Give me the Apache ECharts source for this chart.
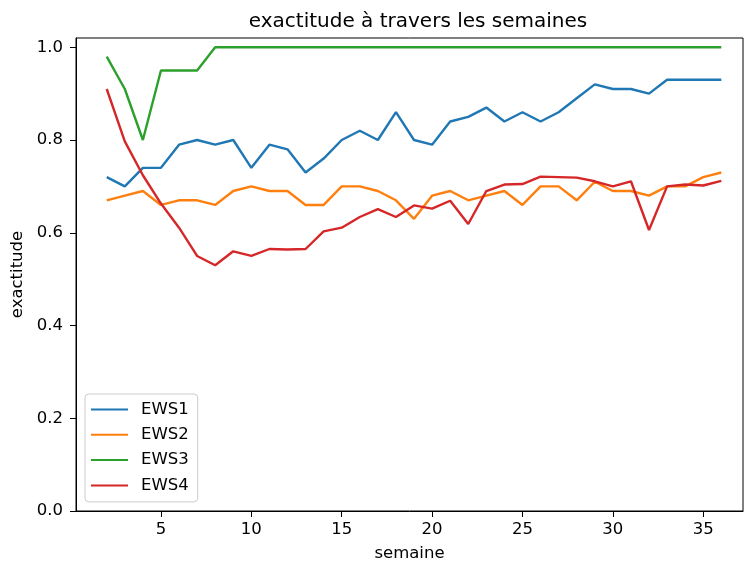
<!DOCTYPE html>
<html>
<head>
<meta charset="utf-8">
<script src="https://cdn.jsdelivr.net/npm/echarts@6/dist/echarts.min.js"></script>
<style>
  html, body { margin: 0; padding: 0; background: #fff; }
  #main { width: 744px; height: 562px; }
</style>
</head>
<body>
<div id="main"></div>
<script>
var weeks = [2, 3, 4, 5, 6, 7, 8, 9, 10, 11, 12, 13, 14, 15, 16, 17, 18, 19, 20, 21, 22, 23, 24, 25, 26, 27, 28, 29, 30, 31, 32, 33, 34, 35, 36];
var ews1 = [0.72, 0.70, 0.74, 0.74, 0.79, 0.80, 0.79, 0.80, 0.74, 0.79, 0.78, 0.73, 0.76, 0.80, 0.82, 0.80, 0.86, 0.80, 0.79, 0.84, 0.85, 0.87, 0.84, 0.86, 0.84, 0.86, 0.89, 0.92, 0.91, 0.91, 0.90, 0.93, 0.93, 0.93, 0.93];
var ews2 = [0.67, 0.68, 0.69, 0.66, 0.67, 0.67, 0.66, 0.69, 0.70, 0.69, 0.69, 0.66, 0.66, 0.70, 0.70, 0.69, 0.67, 0.63, 0.68, 0.69, 0.67, 0.68, 0.69, 0.66, 0.70, 0.70, 0.67, 0.71, 0.69, 0.69, 0.68, 0.70, 0.70, 0.72, 0.73];
var ews3 = [0.98, 0.91, 0.80, 0.95, 0.95, 0.95, 1.0, 1.0, 1.0, 1.0, 1.0, 1.0, 1.0, 1.0, 1.0, 1.0, 1.0, 1.0, 1.0, 1.0, 1.0, 1.0, 1.0, 1.0, 1.0, 1.0, 1.0, 1.0, 1.0, 1.0, 1.0, 1.0, 1.0, 1.0, 1.0];
var ews4 = [0.910, 0.797, 0.724, 0.663, 0.611, 0.550, 0.530, 0.560, 0.550, 0.565, 0.564, 0.565, 0.603, 0.611, 0.634, 0.651, 0.634, 0.659, 0.652, 0.669, 0.619, 0.690, 0.704, 0.705, 0.721, 0.720, 0.719, 0.711, 0.700, 0.711, 0.606, 0.700, 0.704, 0.702, 0.712];
var seriesNames = ['EWS1', 'EWS2', 'EWS3', 'EWS4'];
var colors = ['#1f77b4', '#ff7f0e', '#2ca02c', '#d62728'];
var xTicks = [5, 10, 15, 20, 25, 30, 35];
var yTicks = [0, 0.2, 0.4, 0.6, 0.8, 1.0];

var font = 'DejaVu Sans';

function pairs(vals) {
    return weeks.map(function (w, i) { return [w, vals[i]]; });
}

var allValues = [ews1, ews2, ews3, ews4];
var series = seriesNames.map(function (name, i) {
    return {
        name: name,
        type: 'line',
        data: pairs(allValues[i]),
        showSymbol: false,
        symbol: 'none',
        lineStyle: { color: colors[i], width: 2.4 },
        itemStyle: { color: colors[i] }
    };
});

var myChart = echarts.init(document.getElementById('main'));
var option = {
    animation: false,
    backgroundColor: '#fff',
    title: {
        text: 'exactitude à travers les semaines',
        left: 413,
        textAlign: 'center',
        top: 7,
        textStyle: { fontFamily: font, fontSize: 20, fontWeight: 'normal', color: '#000' }
    },
    grid: {
        left: 76, right: 1, top: 38, bottom: 51,
        outerBoundsMode: 'none',
        containLabel: false,
        show: true, borderColor: '#000', borderWidth: 1, backgroundColor: 'transparent'
    },
    legend: {
        orient: 'vertical',
        left: 85,
        top: 394,
        data: seriesNames,
        icon: 'rect',
        itemWidth: 37,
        itemHeight: 2,
        itemGap: 6.3,
        padding: [6, 9, 7, 6],
        borderColor: '#cccccc',
        borderWidth: 1,
        borderRadius: 4,
        backgroundColor: 'rgba(255,255,255,0.8)',
        textStyle: { fontFamily: font, fontSize: 16.5, color: '#000', lineHeight: 19, padding: [0, 0, 0, 8] }
    },
    xAxis: {
        type: 'value',
        min: 0.3,
        max: 37.2,
        name: 'semaine',
        nameLocation: 'middle',
        nameGap: 34,
        nameTextStyle: { fontFamily: font, fontSize: 16.5, color: '#000' },
        axisLine: { show: true, lineStyle: { color: '#000', width: 1 } },
        axisTick: { show: true, inside: false, length: 6, customValues: xTicks, lineStyle: { color: '#000' } },
        axisLabel: { customValues: xTicks, fontFamily: font, fontSize: 16.5, color: '#000', margin: 10 },
        splitLine: { show: false }
    },
    yAxis: {
        type: 'value',
        min: 0,
        max: 1.02,
        name: 'exactitude',
        nameLocation: 'middle',
        nameGap: 44,
        nameRotate: 90,
        nameTextStyle: { fontFamily: font, fontSize: 16.5, color: '#000' },
        axisLine: { show: true, lineStyle: { color: '#000', width: 1 } },
        axisTick: { show: true, inside: false, length: 6, customValues: yTicks, lineStyle: { color: '#000' } },
        axisLabel: {
            customValues: yTicks, fontFamily: font, fontSize: 16.5, color: '#000', margin: 13,
            formatter: function (v) { return v.toFixed(1); }
        },
        splitLine: { show: false }
    },
    series: series
};
myChart.setOption(option);
</script>
</body>
</html>
